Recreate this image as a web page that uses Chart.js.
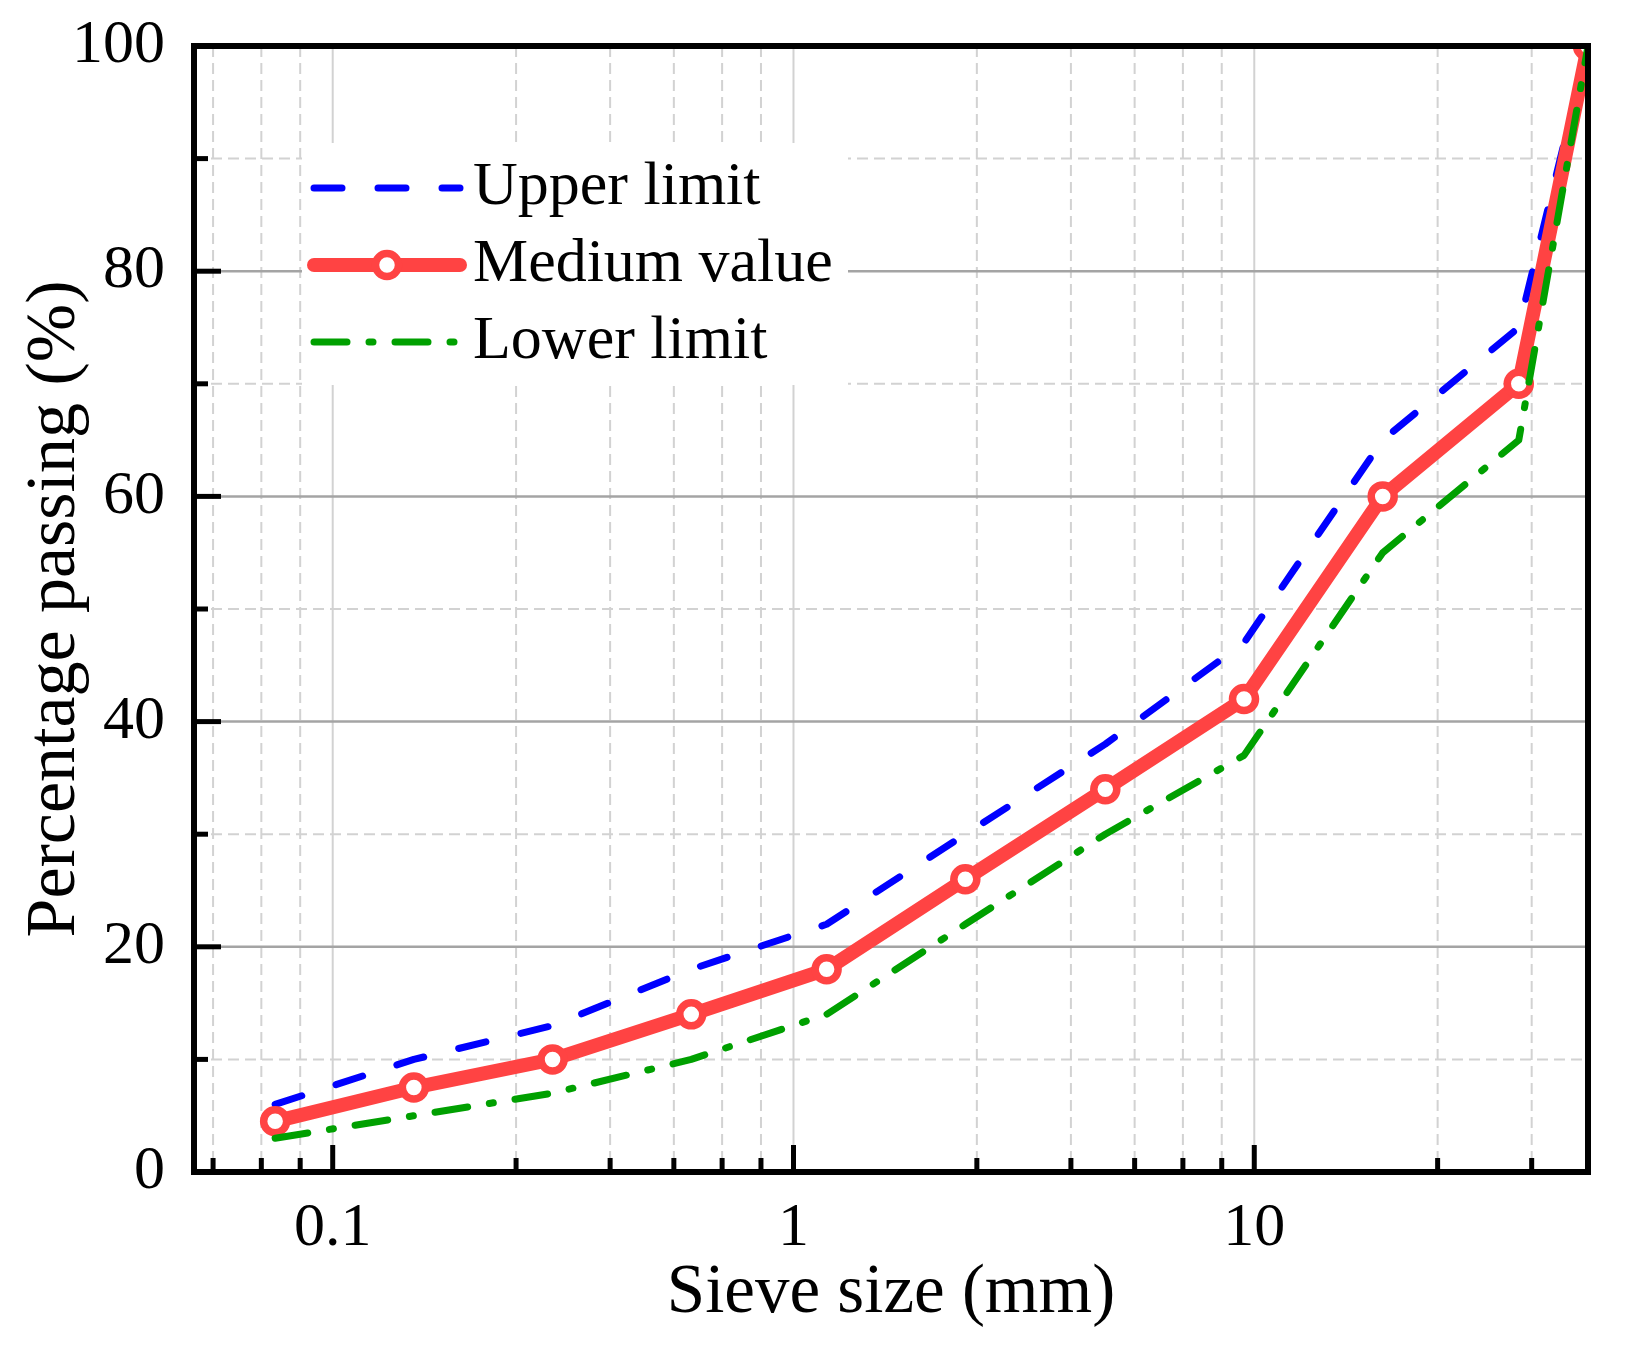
<!DOCTYPE html>
<html>
<head>
<meta charset="utf-8">
<script src="https://cdn.jsdelivr.net/npm/chart.js@4.4.1/dist/chart.umd.min.js"></script>
<style>
  html, body { margin: 0; padding: 0; background: #ffffff; }
  #wrap { width: 1628px; height: 1358px; }
</style>
</head>
<body>
<div id="wrap"><canvas id="c" width="1628" height="1358"></canvas></div>
<script>
// ---- data ----
const sieveSizes   = [0.075, 0.15, 0.3, 0.6, 1.18, 2.36, 4.75, 9.5, 19, 37.5, 53];
const upperLimit   = [6, 10, 13, 18, 22, 30, 38, 47, 65, 75, 100];
const mediumValue  = [4.5, 7.5, 10, 14, 18, 26, 34, 42, 60, 70, 100];
const lowerLimit   = [3, 5, 7, 10, 14, 22, 30, 37, 55, 65, 100];
const seriesLabels = ['Upper limit', 'Medium value', 'Lower limit'];
const xMajorTicks  = [0.1, 1, 10];
const xTickLabels  = ['0.1', '1', '10'];
const xMinorTicks  = [0.055, 0.07, 0.085, 0.25, 0.4, 0.55, 0.7, 0.85, 2.5, 4, 5.5, 7, 8.5, 25, 40];
const yTickValues  = [0, 10, 20, 30, 40, 50, 60, 70, 80, 90, 100];
const yLabelValues = [0, 20, 40, 60, 80, 100];
const xTitle = 'Sieve size (mm)';
const yTitle = 'Percentage passing (%)';

const FONT = "'Liberation Serif', 'Times New Roman', serif";
Chart.defaults.font.family = FONT;
Chart.defaults.color = '#000000';

const toPts = (vals) => sieveSizes.map((s, i) => ({ x: s, y: vals[i] }));

const gridPlugin = {
  id: 'customGrid',
  beforeDatasetsDraw(chart) {
    const { ctx, chartArea: a, scales: { x, y } } = chart;
    ctx.save();
    ctx.beginPath();
    ctx.rect(a.left, a.top, a.right - a.left, a.bottom - a.top);
    ctx.clip();
    x.ticks.forEach(t => {
      const px = x.getPixelForValue(t.value);
      const major = xMajorTicks.includes(t.value);
      ctx.beginPath();
      ctx.lineWidth = 2;
      ctx.strokeStyle = '#D2D2D2';
      ctx.setLineDash(major ? [] : [11, 6]);
      ctx.moveTo(px, a.top);
      ctx.lineTo(px, a.bottom);
      ctx.stroke();
    });
    y.ticks.forEach(t => {
      if (t.value <= 0 || t.value >= 100) return;
      if (yLabelValues.includes(t.value)) return;
      const py = y.getPixelForValue(t.value);
      ctx.beginPath();
      ctx.lineWidth = 2;
      ctx.strokeStyle = '#D2D2D2';
      ctx.setLineDash([11, 6]);
      ctx.moveTo(a.left, py);
      ctx.lineTo(a.right, py);
      ctx.stroke();
    });
    y.ticks.forEach(t => {
      if (t.value <= 0 || t.value >= 100) return;
      if (!yLabelValues.includes(t.value)) return;
      const py = y.getPixelForValue(t.value);
      ctx.beginPath();
      ctx.lineWidth = 2.5;
      ctx.strokeStyle = '#A4A4A4';
      ctx.setLineDash([]);
      ctx.moveTo(a.left, py);
      ctx.lineTo(a.right, py);
      ctx.stroke();
    });
    ctx.restore();
  },
  afterDatasetsDraw(chart) {
    const { ctx, chartArea: a, scales: { x, y } } = chart;
    // legend box
    ctx.save();
    ctx.fillStyle = '#FFFFFF';
    ctx.fillRect(302, 143, 546, 242);
    const rows = [188, 265, 342];
    chart.data.datasets.forEach((ds, i) => {
      const ry = rows[i];
      ctx.beginPath();
      ctx.strokeStyle = ds.borderColor;
      ctx.lineWidth = ds.borderWidth;
      ctx.lineCap = 'round';
      ctx.setLineDash(ds.borderDash || []);
      ctx.moveTo(314, ry);
      ctx.lineTo(460, ry);
      ctx.stroke();
      ctx.setLineDash([]);
      if (ds.pointRadius > 0) {
        ctx.beginPath();
        ctx.arc(387, ry, ds.pointRadius, 0, Math.PI * 2);
        ctx.fillStyle = ds.pointBackgroundColor;
        ctx.fill();
        ctx.lineWidth = ds.pointBorderWidth;
        ctx.strokeStyle = ds.pointBorderColor;
        ctx.stroke();
      }
      ctx.fillStyle = '#000000';
      ctx.font = '62px ' + FONT;
      ctx.textBaseline = 'middle';
      ctx.textAlign = 'left';
      ctx.fillText(ds.label, 473, ry);
    });
    ctx.restore();

    // frame and inward ticks
    ctx.save();
    ctx.setLineDash([]);
    ctx.strokeStyle = '#000000';
    ctx.lineCap = 'butt';
    ctx.lineWidth = 5;
    x.ticks.forEach(t => {
      const px = x.getPixelForValue(t.value);
      const len = xMajorTicks.includes(t.value) ? 27 : 14;
      ctx.beginPath();
      ctx.moveTo(px, a.bottom);
      ctx.lineTo(px, a.bottom - len);
      ctx.stroke();
    });
    y.ticks.forEach(t => {
      const py = y.getPixelForValue(t.value);
      const len = yLabelValues.includes(t.value) ? 27 : 14;
      ctx.beginPath();
      ctx.moveTo(a.left, py);
      ctx.lineTo(a.left + len, py);
      ctx.stroke();
    });
    ctx.lineWidth = 6;
    ctx.lineJoin = 'miter';
    ctx.strokeRect(a.left, a.top, a.right - a.left, a.bottom - a.top);
    ctx.restore();
  }
};

new Chart(document.getElementById('c'), {
  type: 'line',
  data: {
    datasets: [
      {
        label: seriesLabels[0],
        data: toPts(upperLimit),
        borderColor: '#0000FF',
        borderWidth: 7,
        borderDash: [28, 36],
        borderCapStyle: 'round',
        borderJoinStyle: 'round',
        pointRadius: 0,
        fill: false,
        order: 2
      },
      {
        label: seriesLabels[1],
        data: toPts(mediumValue),
        borderColor: '#FF4343',
        borderWidth: 14,
        borderCapStyle: 'round',
        borderJoinStyle: 'round',
        pointRadius: 11.5,
        pointHoverRadius: 11.5,
        pointBorderWidth: 7.5,
        pointBackgroundColor: '#FFFFFF',
        pointBorderColor: '#FF4343',
        fill: false,
        order: 1
      },
      {
        label: seriesLabels[2],
        data: toPts(lowerLimit),
        borderColor: '#00A000',
        borderWidth: 7,
        borderDash: [33, 22, 4, 22],
        borderCapStyle: 'round',
        borderJoinStyle: 'round',
        pointRadius: 0,
        fill: false,
        order: 0
      }
    ]
  },
  options: {
    responsive: false,
    devicePixelRatio: 1,
    animation: false,
    layout: { padding: { left: 0, top: 46, right: 40, bottom: 0 } },
    plugins: { legend: { display: false }, tooltip: { enabled: false } },
    scales: {
      x: {
        type: 'logarithmic',
        min: 0.05,
        max: 53,
        grid: { display: false, drawTicks: false },
        border: { display: false },
        afterBuildTicks: (scale) => {
          const vals = [...xMinorTicks, ...xMajorTicks].sort((p, q) => p - q);
          scale.ticks = vals.map(v => ({ value: v }));
        },
        afterFit: (scale) => {
          scale.height = 186;
          scale.paddingLeft = 0;
          scale.paddingRight = 0;
        },
        ticks: {
          autoSkip: false,
          maxRotation: 0,
          minRotation: 0,
          padding: 20,
          font: { size: 62, family: FONT, lineHeight: 1.2 },
          color: '#000000',
          callback: (v) => {
            const idx = xMajorTicks.indexOf(v);
            return idx >= 0 ? xTickLabels[idx] : '';
          }
        },
        title: {
          display: true,
          text: xTitle,
          font: { size: 69, family: FONT, lineHeight: 1.2 },
          color: '#000000',
          padding: { top: 0, bottom: 23 }
        }
      },
      y: {
        type: 'linear',
        min: 0,
        max: 100,
        grid: { display: false, drawTicks: false },
        border: { display: false },
        afterBuildTicks: (scale) => {
          scale.ticks = yTickValues.map(v => ({ value: v }));
        },
        afterFit: (scale) => {
          scale.width = 194;
          scale.paddingTop = 0;
          scale.paddingBottom = 0;
        },
        ticks: {
          autoSkip: false,
          padding: 29,
          font: { size: 62, family: FONT, lineHeight: 1.2 },
          color: '#000000',
          callback: (v) => yLabelValues.includes(v) ? String(v) : ''
        },
        title: {
          display: true,
          text: yTitle,
          font: { size: 70, family: FONT, lineHeight: 1.2 },
          color: '#000000',
          padding: { top: 14, bottom: 0 }
        }
      }
    }
  },
  plugins: [gridPlugin]
});
</script>
</body>
</html>
